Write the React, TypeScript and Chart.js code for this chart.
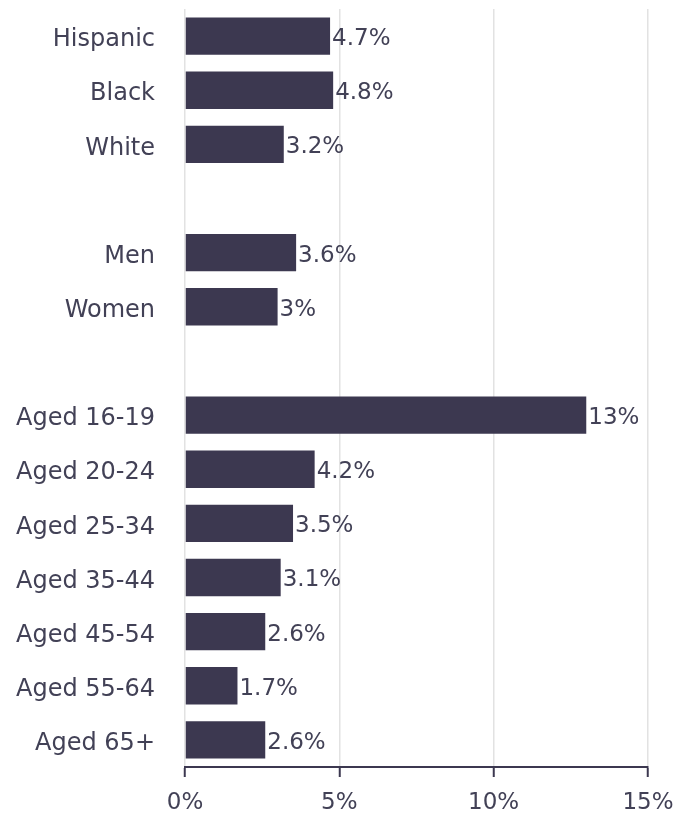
import React, { useEffect, useRef } from "react";
import { Chart, registerables } from "chart.js";

Chart.register(...registerables);

const categories: string[] = [
  "Hispanic", "Black", "White", "",
  "Men", "Women", "",
  "Aged 16-19", "Aged 20-24", "Aged 25-34", "Aged 35-44", "Aged 45-54", "Aged 55-64", "Aged 65+",
];
const values: (number | null)[] = [
  4.7, 4.8, 3.2, null,
  3.6, 3.0, null,
  13, 4.2, 3.5, 3.1, 2.6, 1.7, 2.6,
];
const xTicks: number[] = [0, 5, 10, 15];

const FONT = "'DejaVu Sans', sans-serif";
const TEXT = "#424156";
const BAR = "#3c3850";

const valueLabels = {
  id: "valueLabels",
  afterDatasetsDraw(chart: any) {
    const ctx = chart.ctx;
    const meta = chart.getDatasetMeta(0);
    ctx.save();
    ctx.font = `23px ${FONT}`;
    ctx.fillStyle = TEXT;
    ctx.textAlign = "left";
    ctx.textBaseline = "middle";
    meta.data.forEach((el: any, i: number) => {
      const v = values[i];
      if (v == null) return;
      ctx.fillText(`${+v.toFixed(1)}%`, el.x + 2, el.y + 3);
    });
    ctx.restore();
  },
};

export default function App() {
  const ref = useRef<HTMLCanvasElement>(null);
  useEffect(() => {
    const chart = new Chart(ref.current!, {
      type: "bar",
      data: {
        labels: categories,
        datasets: [
          {
            data: values,
            backgroundColor: BAR,
            barPercentage: 0.69,
            categoryPercentage: 1,
          },
        ],
      },
      options: {
        indexAxis: "y",
        animation: false,
        responsive: false,
        layout: { padding: { top: 9, right: 38, left: 0, bottom: 0 } },
        plugins: { legend: { display: false }, tooltip: { enabled: false } },
        scales: {
          x: {
            min: 0,
            max: 15,
            afterBuildTicks: (scale: any) => {
              scale.ticks = xTicks.map((v) => ({ value: v }));
            },
            afterFit: (scale: any) => {
              scale.height = 47;
              scale.paddingLeft = 0;
              scale.paddingRight = 0;
            },
            grid: {
              color: "#e2e2e2",
              lineWidth: 1.5,
              tickColor: BAR,
              tickLength: 10,
              tickWidth: 2,
            },
            border: { display: true, color: BAR, width: 2 },
            ticks: {
              color: TEXT,
              font: { family: FONT, size: 23 },
              padding: 12,
              callback: (v: any) => `${v}%`,
            },
          },
          y: {
            afterFit: (scale: any) => {
              scale.width = 185;
              scale.paddingTop = 0;
              scale.paddingBottom = 0;
            },
            grid: { display: false, drawTicks: false },
            border: { display: false },
            ticks: {
              color: TEXT,
              font: { family: FONT, size: 24 },
              padding: 30,
              labelOffset: 4,
              autoSkip: false,
            },
          },
        },
      },
      plugins: [valueLabels],
    });
    return () => chart.destroy();
  }, []);
  return (
    <div style={{ position: "fixed", left: 0, top: 0, width: 686, height: 814, background: "#fff" }}>
      <canvas ref={ref} width={686} height={814} style={{ display: "block" }} />
    </div>
  );
}
